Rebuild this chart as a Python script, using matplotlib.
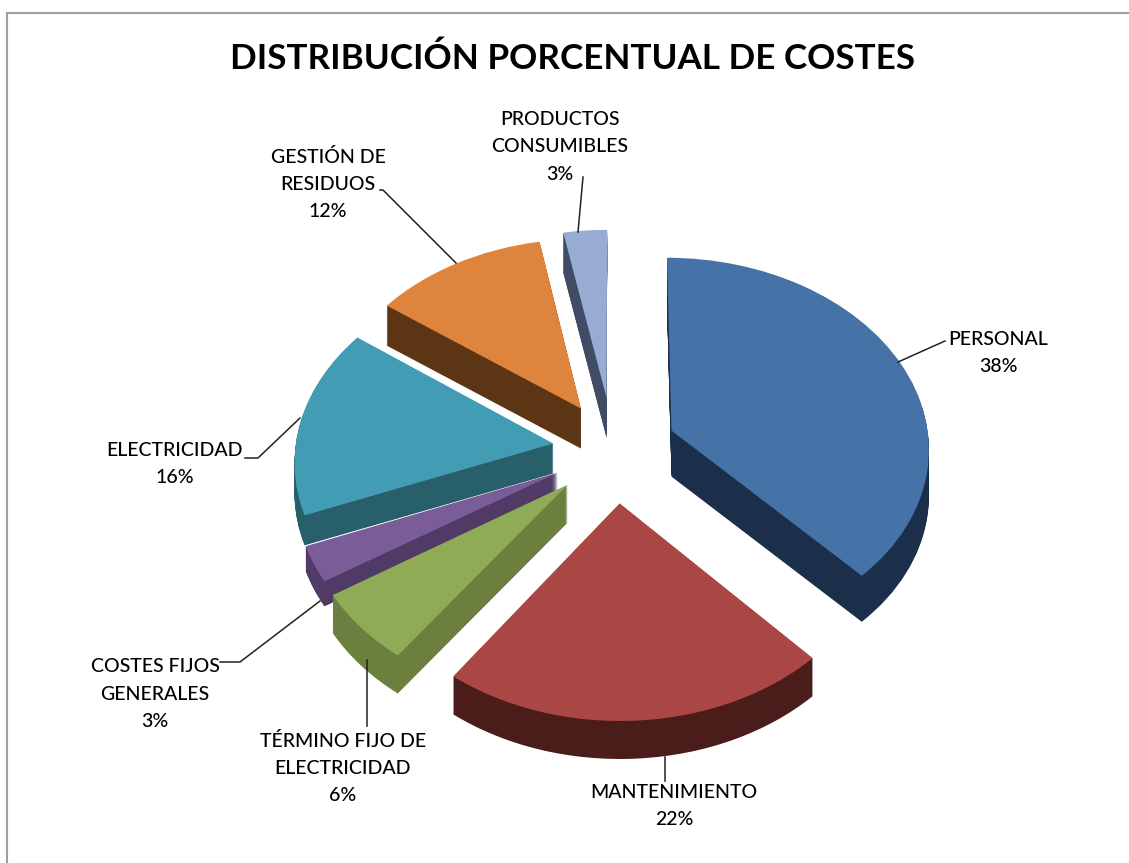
import matplotlib
matplotlib.use("Agg")
import numpy as np
import matplotlib.pyplot as plt
from matplotlib.transforms import Transform

plt.rcParams['font.family'] = ['Lato', 'DejaVu Sans']

# datos del grafico
categorias = ["PERSONAL", "MANTENIMIENTO", "TÉRMINO FIJO DE\nELECTRICIDAD", "COSTES FIJOS\nGENERALES",
              "ELECTRICIDAD", "GESTIÓN DE\nRESIDUOS", "PRODUCTOS\nCONSUMIBLES"]
porcentajes = [38, 22, 6, 3, 16, 12, 3]
titulo = "DISTRIBUCIÓN PORCENTUAL DE COSTES"

# estilo
explode = [0.25, 0.28, 0.30, 0.26, 0.23, 0.25, 0.27]
colores = ["#4573A7", "#AA4643", "#8FAB55", "#7A5C98", "#429DB4", "#DE843C", "#97ABD3"]
laterales = ["#1B2F4B", "#4A1C1A", "#6B803E", "#4F3B66", "#275F6B", "#5C3514", "#3F4C66"]
profundidad = [46, 38, 38, 25, 30, 40, 40]
ajuste_x = [0, 3, 13, 6, 0, 3, 1]
ajuste_y = [0, 1, -3, 2, 1, 0, 0]
orden = [2, 6, 5, 4, 3, 1, 0]  # de atras hacia delante

CX, CY = 612, 448
RX, RY = 258, 190
K = 0.083


class Vista(Transform):
    input_dims = output_dims = 2

    def __init__(self, dx=0, dz=0):
        super().__init__()
        self.dx = dx
        self.dz = dz

    def transform_non_affine(self, values):
        xy = np.asarray(values, dtype=float)
        w = 1 + K * xy[:, 1]
        return np.column_stack([CX + RX * xy[:, 0] / w + self.dx, CY - RY * xy[:, 1] / w + self.dz])


fig = plt.figure(figsize=(11.29, 8.63), dpi=100)
ax = fig.add_axes([0, 0, 1, 1])


def tarta(cols, dz_por_porcion, z_extra):
    wedges, _ = ax.pie(porcentajes, explode=explode, colors=cols, startangle=90, counterclock=False,
                       wedgeprops=dict(linewidth=0))
    for i, w in enumerate(wedges):
        w.set_transform(Vista(ajuste_x[i], dz_por_porcion[i] + ajuste_y[i]) + ax.transData)
        w.set_zorder(2 + orden[i] + z_extra)


# cara lateral a base de capas
for f in np.linspace(1, 0.02, 46):
    tarta(laterales, [d * f for d in profundidad], (1 - f) * 0.5)
tarta(colores, [0] * 7, 0.6)

ax.set_aspect("auto")
ax.set_xlim(0, 1129)
ax.set_ylim(863, 0)
ax.axis("off")

# marco
ax.plot([7, 1129], [13, 13], color="#A0A0A0", lw=1.5, zorder=1)
ax.plot([7, 7], [13, 863], color="#A0A0A0", lw=1.5, zorder=1)

ax.text(573, 59, titulo, fontsize=25.2, fontweight="bold", ha="center", va="center", color="black")

# etiquetas (x, y en pixeles)
pos_etiquetas = [(998, 353), (674, 806), (343, 768), (155, 694), (175, 464), (328, 184), (560, 147)]
for cat, p, (x, y) in zip(categorias, porcentajes, pos_etiquetas):
    ax.text(x, y, f"{cat}\n{p}%", fontsize=14, ha="center", va="center", linespacing=1.72, zorder=20,
            fontweight="medium", color="black")

# lineas guia
guias = [
    ([898, 945, 945], [362, 341, 341]),
    ([665, 665], [757, 781]),
    ([367, 367], [660, 726]),
    ([320, 240, 220], [601, 662, 662]),
    ([300, 258, 245], [418, 458, 458]),
    ([456, 383, 380], [263, 190, 190]),
    ([578, 583], [232, 177]),
]
for gx, gy in guias:
    ax.plot(gx, gy, color="#222222", lw=1.1, zorder=15)

fig.savefig("out.png", dpi=100)
